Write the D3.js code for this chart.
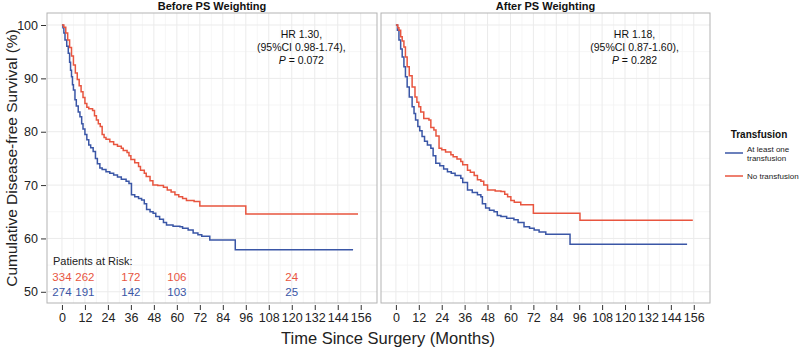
<!DOCTYPE html>
<html lang="en">
<head>
<meta charset="UTF-8">
<title>Disease-free survival by transfusion</title>
<script src="https://d3js.org/d3.v7.min.js"></script>
<style>
  body { margin: 0; background: #fff; }
  text { font-family: "Liberation Sans", Arial, Helvetica, sans-serif; }
</style>
</head>
<body>
<svg id="chart" width="800" height="349"></svg>
<script>
// KM curves, [month, survival %] at each step
const beforeNoTransfusion = [
  [0,100],[1,99.6],[2,98.5],[3,97.2],[4,95.8],[5,94.2],[6,92.5],[7,91],[8,89.8],[9,88.6],
  [10,87.5],[11,86.4],[12,85.3],[13,84.6],[14,84.3],[16,84.0],[17,83.0],[18,82.2],[19,81.5],
  [20,81.0],[21,79.5],[22,78.9],[23,78.6],[25,78.1],[27,77.6],[29,77.3],[31,76.9],[32,76.5],
  [34,76.1],[35,75.5],[36,74.8],[38,74.2],[40,73.5],[41,72.8],[43,72.2],[44,71.6],[46,70.8],
  [47.5,70.0],[50,69.9],[53,69.6],[55,69.1],[57,68.7],[59,68.2],[61,67.8],[63,67.5],[65,67.1],
  [69,66.9],[72,66.1],[96,64.6],[154.6,64.6]
];
const beforeAtLeastOne = [
  [0,100],[0.5,99.5],[1,98.5],[1.6,97.2],[2.5,96],[3.3,94.7],[4,93],[4.5,91.5],[5,90.3],
  [5.5,88.8],[6,87.8],[6.8,86],[7.5,84.8],[8.5,83.7],[9.4,82.8],[10.3,81.5],[11,80.5],[12,79.5],
  [13,78.5],[14,77.5],[15,77],[16.3,76.3],[17.5,75],[18.5,74],[19.8,73.2],[21,72.9],[23,72.5],
  [25,72.2],[27,71.9],[29,71.5],[31,71.1],[33.5,70.7],[35,70.3],[36.3,68.2],[38,67.8],[40,67.5],
  [41.6,67.2],[43,66.5],[44.2,65.4],[46,65],[47.6,64.7],[49,64.1],[51,63.6],[53,63],[54.6,62.5],
  [58,62.3],[61.6,62.2],[63,61.9],[65.9,61.6],[68.5,61],[71,60.7],[73,60.4],[77.2,59.7],
  [90.5,57.9],[152,57.9]
];
const afterNoTransfusion = [
  [0,100],[1,99.5],[1.6,99],[2.5,97.8],[3.3,97],[4.2,95.9],[5,94],[5.9,92.2],[7,90.5],[8.5,88.4],
  [10,86.5],[11,85.5],[12,84.7],[13,83.7],[14.6,82.5],[17.3,82.2],[18.3,80.8],[19.9,80.3],
  [21,79.2],[22.6,76.9],[24,76.6],[26,76.2],[28.8,75.7],[30,75.3],[32,74.9],[34,74.4],[35,73.8],
  [37.5,72.8],[39,72.4],[41,71.8],[42.7,71],[44.5,70.7],[46,70],[48,69.1],[52,68.9],[55,68.8],
  [57,68.3],[58.5,67.8],[60.2,67.1],[62,66.8],[65.4,66.3],[72,64.7],[96.4,63.4],[155.5,63.4]
];
const afterAtLeastOne = [
  [0,100],[0.8,99],[1.6,97.2],[2.5,95.5],[3.3,94],[4.2,92.2],[5,90.3],[5.9,88.4],[7,86.5],
  [8.5,84.7],[9.5,83.4],[10.3,82.2],[11.5,81],[12.5,80.2],[13.7,79.1],[15,78.2],[16.5,77.5],
  [18.3,76.9],[19.5,75.5],[20.9,74.1],[23,73.6],[25,73],[27,72.5],[29,72.2],[31,71.8],[34,71.3],
  [35,70.5],[37.5,69.1],[40,68.6],[42.7,68.2],[44.5,67.8],[45.3,66.5],[47,65.7],[49,65.3],
  [51.4,65],[53.1,64.3],[55,64.1],[58,63.8],[61.8,63.5],[64,63],[67.1,62.2],[70,61.9],
  [72.4,61.6],[75,61.2],[78.5,60.8],[91.2,58.9],[152.5,58.9]
];

// patients at risk (before weighting panel)
const riskMonths = [0, 12, 36, 60, 120];
const riskNoTransfusion = [334, 262, 172, 106, 24];
const riskAtLeastOne = [274, 191, 142, 103, 25];

const xTicks = d3.range(0, 157, 12);
const yTicks = [50, 60, 70, 80, 90, 100];

const panelTitles = ["Before PS Weighting", "After PS Weighting"];
const hrText = [
  ["HR 1.30,", "(95%CI 0.98-1.74),", "0.072"],
  ["HR 1.18,", "(95%CI 0.87-1.60),", "0.282"]
];
const legendLabels = [["At least one", "transfusion"], ["No transfusion"]];

const RED = "#e8553f", BLUE = "#3a56a6";

const svg = d3.select("#chart");
const plotTop = 13, plotBottom = 303;
const panels = [
  { left: 47, right: 377, one: beforeAtLeastOne, no: beforeNoTransfusion },
  { left: 381, right: 710, one: afterAtLeastOne, no: afterNoTransfusion }
];

const y = d3.scaleLinear().domain([47.9, 102.25]).range([plotBottom, plotTop]);

panels.forEach((p, i) => {
  const x = d3.scaleLinear().domain([-7.8, 164.5]).range([p.left, p.right]);
  const g = svg.append("g");

  // gridlines (minor then major)
  g.selectAll("line.vminor").data(d3.range(6, 160, 12)).enter().append("line")
    .attr("x1", d => x(d)).attr("x2", d => x(d)).attr("y1", plotTop).attr("y2", plotBottom)
    .attr("stroke", "#f4f4f4").attr("stroke-width", 0.8);
  g.selectAll("line.hminor").data([55, 65, 75, 85, 95]).enter().append("line")
    .attr("x1", p.left).attr("x2", p.right).attr("y1", d => y(d)).attr("y2", d => y(d))
    .attr("stroke", "#f4f4f4").attr("stroke-width", 0.8);
  g.selectAll("line.vmajor").data(xTicks).enter().append("line")
    .attr("x1", d => x(d)).attr("x2", d => x(d)).attr("y1", plotTop).attr("y2", plotBottom)
    .attr("stroke", "#ebebeb").attr("stroke-width", 1);
  g.selectAll("line.hmajor").data(yTicks).enter().append("line")
    .attr("x1", p.left).attr("x2", p.right).attr("y1", d => y(d)).attr("y2", d => y(d))
    .attr("stroke", "#ebebeb").attr("stroke-width", 1);

  // x axis
  const xAxis = g.append("g")
    .attr("transform", `translate(0,${plotBottom + 2})`)
    .call(d3.axisBottom(x).tickValues(xTicks).tickSize(5).tickPadding(3));
  xAxis.select(".domain").remove();
  xAxis.selectAll("line").attr("stroke", "#333");
  xAxis.selectAll("text").attr("font-size", "12.5px").attr("fill", "#222")
    .style("font-family", "'Liberation Sans', Arial, sans-serif");

  if (i === 0) {
    const yAxis = g.append("g")
      .attr("transform", `translate(${p.left - 1},0)`)
      .call(d3.axisLeft(y).tickValues(yTicks).tickSize(5).tickPadding(3));
    yAxis.select(".domain").remove();
    yAxis.selectAll("line").attr("stroke", "#333");
    yAxis.selectAll("text").attr("font-size", "12.5px").attr("fill", "#222")
      .style("font-family", "'Liberation Sans', Arial, sans-serif");
  }

  // curves
  const line = d3.line().x(d => x(d[0])).y(d => y(d[1])).curve(d3.curveStepAfter);
  g.append("path").datum(p.one).attr("d", line)
    .attr("fill", "none").attr("stroke", BLUE).attr("stroke-width", 1.5);
  g.append("path").datum(p.no).attr("d", line)
    .attr("fill", "none").attr("stroke", RED).attr("stroke-width", 1.5);

  // panel border
  g.append("rect").attr("x", p.left).attr("y", plotTop)
    .attr("width", p.right - p.left).attr("height", plotBottom - plotTop)
    .attr("fill", "none").attr("stroke", "#b3b3b3").attr("stroke-width", 1);

  // panel title
  svg.append("text").attr("x", (p.left + p.right) / 2).attr("y", 10)
    .attr("text-anchor", "middle").attr("font-size", "11px").attr("font-weight", "bold")
    .attr("fill", "#111").text(panelTitles[i]);

  // HR annotation
  const cx = x(125);
  const ann = svg.append("g").attr("font-size", "10.5px").attr("fill", "#111")
    .attr("text-anchor", "middle");
  ann.append("text").attr("x", cx).attr("y", 38).text(hrText[i][0]);
  ann.append("text").attr("x", cx).attr("y", 51).text(hrText[i][1]);
  const pt = ann.append("text").attr("x", cx).attr("y", 64);
  pt.append("tspan").attr("font-style", "italic").text("P");
  pt.append("tspan").text(" = " + hrText[i][2]);

  // patients at risk table
  if (i === 0) {
    svg.append("text").attr("x", 53).attr("y", 265).attr("font-size", "11px")
      .attr("fill", "#222").text("Patients at Risk:");
    svg.selectAll("text.riskNo").data(riskNoTransfusion).enter().append("text")
      .attr("class", "riskNo")
      .attr("x", (d, k) => x(riskMonths[k])).attr("y", 281)
      .attr("text-anchor", "middle").attr("font-size", "11.5px").attr("fill", RED)
      .text(d => d);
    svg.selectAll("text.riskOne").data(riskAtLeastOne).enter().append("text")
      .attr("class", "riskOne")
      .attr("x", (d, k) => x(riskMonths[k])).attr("y", 296)
      .attr("text-anchor", "middle").attr("font-size", "11.5px").attr("fill", BLUE)
      .text(d => d);
  }
});

// axis titles
svg.append("text").attr("x", 388).attr("y", 344).attr("text-anchor", "middle")
  .attr("font-size", "16.5px").attr("fill", "#222").text("Time Since Surgery (Months)");
svg.append("text").attr("transform", "rotate(-90)").attr("x", -158).attr("y", 17)
  .attr("text-anchor", "middle").attr("font-size", "15.5px").attr("fill", "#222")
  .text("Cumulative Disease-free Survival (%)");

// legend
const leg = svg.append("g");
leg.append("text").attr("x", 759).attr("y", 138).attr("text-anchor", "middle")
  .attr("font-size", "10px").attr("font-weight", "bold").attr("fill", "#111").text("Transfusion");
[BLUE, RED].forEach((c, k) => {
  const ly = k === 0 ? 153 : 176;
  leg.append("line").attr("x1", 725).attr("x2", 743).attr("y1", ly).attr("y2", ly)
    .attr("stroke", c).attr("stroke-width", 1.5);
  const lines = legendLabels[k];
  lines.forEach((t, j) => {
    leg.append("text").attr("x", 747)
      .attr("y", ly + 3 - (lines.length - 1) * 4.5 + j * 9)
      .attr("font-size", "8px").attr("fill", "#222").text(t);
  });
});
</script>
</body>
</html>
